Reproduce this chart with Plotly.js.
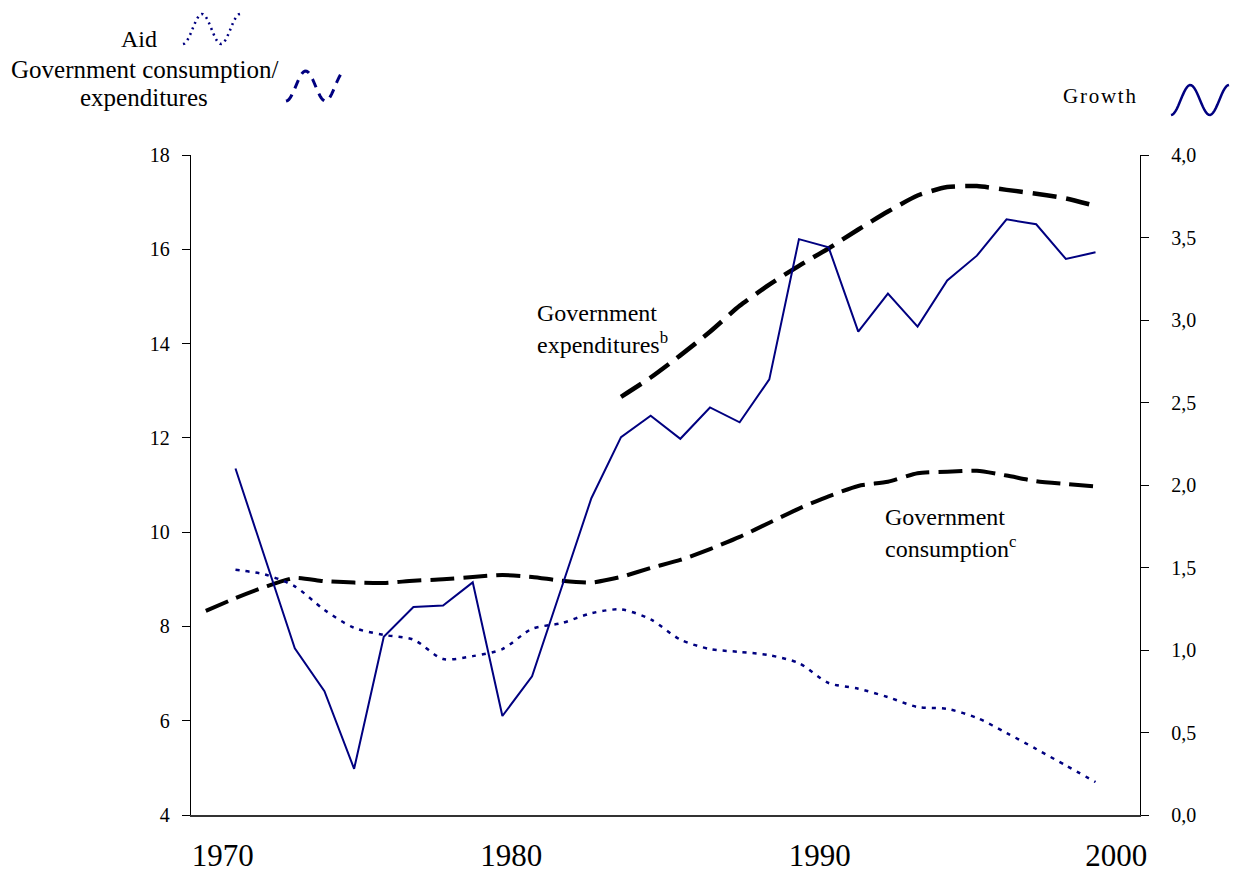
<!DOCTYPE html>
<html>
<head>
<meta charset="utf-8">
<script src="https://cdn.plot.ly/plotly-3.0.1.min.js"></script>
<style>html,body{margin:0;padding:0;background:#fff;}#chart{width:1237px;height:875px;}</style>
</head>
<body>
<div id="chart"></div>
<script>
// ---- data ----
const yearsGrowth = [1971,1972,1973,1974,1975,1976,1977,1978,1979,1980,1981,1982,1983,1984,1985,1986,1987,1988,1989,1990,1991,1992,1993,1994,1995,1996,1997,1998,1999,2000];
const growth = [2.10,1.55,1.01,0.75,0.28,1.08,1.26,1.27,1.41,0.60,0.84,1.38,1.92,2.29,2.42,2.28,2.47,2.38,2.64,3.49,3.44,2.93,3.16,2.96,3.24,3.39,3.61,3.58,3.37,3.41];
const aid = [9.20,9.10,8.85,8.35,7.97,7.82,7.72,7.31,7.37,7.52,7.95,8.07,8.28,8.36,8.15,7.72,7.52,7.46,7.39,7.22,6.80,6.68,6.50,6.29,6.25,6.06,5.74,5.40,5.05,4.70];
const yearsCons = [1970,1971,1972,1973,1974,1975,1976,1977,1978,1979,1980,1981,1982,1983,1984,1985,1986,1987,1988,1989,1990,1991,1992,1993,1994,1995,1996,1997,1998,1999,2000];
const govCons = [8.33,8.60,8.84,9.03,8.96,8.93,8.92,8.97,9.00,9.05,9.09,9.05,8.97,8.93,9.05,9.24,9.41,9.64,9.90,10.20,10.50,10.76,10.98,11.07,11.25,11.28,11.30,11.20,11.08,11.02,10.97];
const yearsExp = [1984,1985,1986,1987,1988,1989,1990,1991,1992,1993,1994,1995,1996,1997,1998,1999,2000];
const govExp = [12.87,13.28,13.75,14.25,14.80,15.25,15.65,16.02,16.42,16.80,17.14,17.32,17.34,17.26,17.18,17.08,16.92];
const xTickLabels = ["1970","1980","1990","2000"];
const xTickPos = [1970.57,1980.3,1990.7,2000.7];

const NAVY = "#000080";
const FONT = "Liberation Serif, Times New Roman, serif";

// plot area in pixels
const L = 191, R = 1140, T = 155, B = 815;
const px = x => (x - L) / (R - L);
const py = y => (B - y) / (B - T);

function wavePath(x0, x1, yMid, amp) {
  let d = "";
  const n = 40;
  for (let i = 0; i <= n; i++) {
    const t = -Math.PI / 2 + 3 * Math.PI * i / n;
    const X = px(x0 + (x1 - x0) * i / n);
    const Y = py(yMid - amp * Math.sin(t));
    d += (i === 0 ? "M" : "L") + X.toFixed(5) + "," + Y.toFixed(5) + " ";
  }
  return d;
}

const traces = [
  {x: yearsCons, y: govCons, yaxis: "y", mode: "lines", name: "Government consumption",
   line: {color: "#000", width: 4, dash: "24px,9px", shape: "spline", smoothing: 0.6}},
  {x: yearsExp, y: govExp, yaxis: "y", mode: "lines", name: "Government expenditures",
   line: {color: "#000", width: 4.5, dash: "24px,10px", shape: "spline", smoothing: 0.6}},
  {x: yearsGrowth, y: aid, yaxis: "y", mode: "lines", name: "Aid",
   line: {color: NAVY, width: 2.5, dash: "4px,6px", shape: "spline", smoothing: 0.8}},
  {x: yearsGrowth, y: growth, yaxis: "y2", mode: "lines", name: "Growth",
   line: {color: NAVY, width: 2}}
];

function note(x, y, text, anchor, size) {
  return {xref: "paper", yref: "paper", x: px(x), y: py(y), xanchor: anchor, yanchor: "middle",
          text: text, showarrow: false, font: {family: FONT, size: size || 24, color: "#000"}};
}

const HS = "\u200A";
const layout = {
  width: 1237, height: 875,
  margin: {l: L, r: 1237 - R, t: T, b: 875 - B, pad: 0},
  paper_bgcolor: "#fff", plot_bgcolor: "#fff",
  showlegend: false,
  separators: ", ",
  font: {family: FONT, color: "#000", size: 20},
  xaxis: {
    range: [1969.5, 2001.5], showgrid: false, zeroline: false,
    showline: true, linecolor: "#333", linewidth: 1.5,
    ticks: "", tickvals: xTickPos, ticktext: xTickLabels,
    tickfont: {family: FONT, size: 31, color: "#000"}, ticklabelstandoff: 12
  },
  yaxis: {
    range: [4, 18], dtick: 2, tick0: 4, showgrid: false, zeroline: false,
    showline: true, linecolor: "#000", linewidth: 1.2,
    ticks: "outside", ticklen: 8, tickcolor: "#000", tickwidth: 1,
    tickfont: {family: FONT, size: 20, color: "#000"}, ticklabelstandoff: 8
  },
  yaxis2: {
    range: [0, 4], dtick: 0.5, tick0: 0, overlaying: "y", side: "right",
    tickformat: ".1f", showgrid: false, zeroline: false,
    showline: true, linecolor: "#000", linewidth: 1.2,
    ticks: "outside", ticklen: 8, tickcolor: "#000", tickwidth: 1,
    tickfont: {family: FONT, size: 20, color: "#000"}, ticklabelstandoff: 18
  },
  shapes: [
    {type: "path", xref: "paper", yref: "paper", path: wavePath(183, 240, 29, 15),
     line: {color: NAVY, width: 2.5, dash: "2px,4px"}},
    {type: "path", xref: "paper", yref: "paper", path: wavePath(286, 345, 86, 15),
     line: {color: NAVY, width: 3, dash: "9px,7px"}},
    {type: "path", xref: "paper", yref: "paper", path: wavePath(1171, 1229, 100, 15),
     line: {color: NAVY, width: 2.5}}
  ],
  annotations: [
    note(159, 39, "Aid", "right"),
    note(144, 70, "Government consumption/", "center", 25),
    note(144, 97, "expenditures", "center", 25),
    note(1138, 96, ["G","r","o","w","t","h"].join(HS), "right", 21),
    note(535, 313, "Government", "left"),
    note(535, 343, "expenditures<sup>b</sup>", "left"),
    note(883, 517, "Government", "left"),
    note(883, 547, "consumption<sup>c</sup>", "left")
  ]
};

Plotly.newPlot("chart", traces, layout, {staticPlot: true, displayModeBar: false});
</script>
</body>
</html>
